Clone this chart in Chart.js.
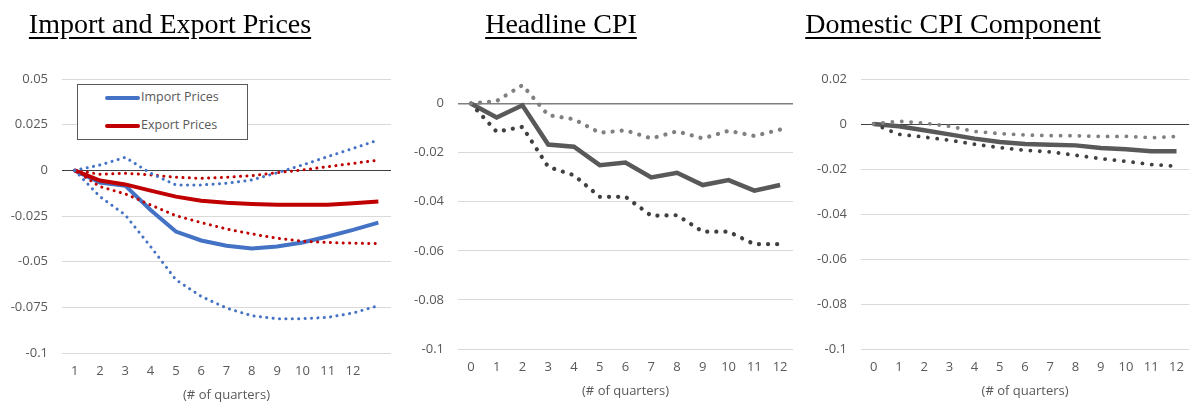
<!DOCTYPE html>
<html>
<head>
<meta charset="utf-8">
<script src="https://cdn.jsdelivr.net/npm/chart.js@4.4.1/dist/chart.umd.min.js"></script>
<style>
  body { margin: 0; background: #fff; width: 1194px; height: 403px; position: relative; overflow: hidden; }
  .panel { position: absolute; top: 0; height: 403px; }
  .title {
    position: absolute; top: 10px; transform: translateX(-50%); white-space: nowrap;
    font-family: "Liberation Serif", "Times New Roman", serif; font-size: 28px; line-height: 28px; color: #000;
    text-decoration: underline; text-decoration-thickness: 2px; text-underline-offset: 4px; z-index: 2;
  }
  .legend {
    position: absolute; left: 77px; top: 84px; width: 169px; height: 54px;
    border: 1.5px solid #595959; background: #fff; z-index: 2;
    font-family: "Open Sans", sans-serif; font-size: 12.5px; color: #595959;
  }
  .legend div { position: absolute; left: 27px; height: 16px; line-height: 16px; }
  .legend span { display: inline-block; width: 35px; height: 4px; border-radius: 2px; vertical-align: middle; margin-right: 1px; }
</style>
</head>
<body>
<div class="title" style="left:170px">Import and Export Prices</div>
<div class="title" style="left:561px">Headline CPI</div>
<div class="title" style="left:953px">Domestic CPI Component</div>

<div class="legend">
  <div style="top:4px"><span style="background:#4472C4"></span>Import Prices</div>
  <div style="top:32px"><span style="background:#C00000"></span>Export Prices</div>
</div>

<div class="panel" style="left:0;width:400px"><canvas id="c1"></canvas></div>
<div class="panel" style="left:400px;width:400px"><canvas id="c2"></canvas></div>
<div class="panel" style="left:800px;width:394px"><canvas id="c3"></canvas></div>

<script>
// Import and Export Prices (13 points, last one unlabelled)
const quarters1 = ['1', '2', '3', '4', '5', '6', '7', '8', '9', '10', '11', '12', ''];
const importPrices = [0, -0.0067, -0.0084, -0.0217, -0.0335, -0.0384, -0.0413, -0.0428, -0.0417, -0.0395, -0.0362, -0.0326, -0.0286];
const importUpper = [0, 0.0029, 0.0071, -0.0016, -0.0080, -0.0080, -0.0071, -0.0053, -0.0013, 0.0029, 0.0075, 0.0120, 0.0166];
const importLower = [0, -0.0144, -0.0244, -0.0417, -0.0599, -0.0690, -0.0754, -0.0796, -0.0812, -0.0812, -0.0805, -0.0781, -0.0741];
const exportPrices = [0, -0.0056, -0.0077, -0.0111, -0.0144, -0.0166, -0.0177, -0.0184, -0.0188, -0.0188, -0.0188, -0.0180, -0.0171];
const exportUpper = [0, -0.0022, -0.0016, -0.0025, -0.0038, -0.0044, -0.0038, -0.0029, -0.0013, 0.0002, 0.0020, 0.0038, 0.0056];
const exportLower = [0, -0.0089, -0.0129, -0.0189, -0.0248, -0.0286, -0.0321, -0.0348, -0.0372, -0.0388, -0.0395, -0.0399, -0.0401];
const yTicks1 = [0.05, 0.025, 0, -0.025, -0.05, -0.075, -0.1];

// Headline CPI
const quarters = ['0', '1', '2', '3', '4', '5', '6', '7', '8', '9', '10', '11', '12'];
const headline = [0, -0.0057, -0.0007, -0.0167, -0.0176, -0.0251, -0.0240, -0.0301, -0.0282, -0.0332, -0.0312, -0.0355, -0.0332];
const headlineUpper = [0, 0.0010, 0.0075, -0.0047, -0.0064, -0.0119, -0.0109, -0.0142, -0.0113, -0.0142, -0.0111, -0.0132, -0.0106];
const headlineLower = [0, -0.0115, -0.0095, -0.0258, -0.0292, -0.0380, -0.0380, -0.0457, -0.0455, -0.0522, -0.0522, -0.0573, -0.0573];
const yTicks2 = [0, -0.02, -0.04, -0.06, -0.08, -0.1];

// Domestic CPI Component
const domestic = [0, -0.0010, -0.0028, -0.0046, -0.0065, -0.0080, -0.0089, -0.0092, -0.0095, -0.0107, -0.0112, -0.0121, -0.0121];
const domesticUpper = [0, 0.0012, 0.0004, -0.0010, -0.0033, -0.0043, -0.0049, -0.0052, -0.0052, -0.0055, -0.0055, -0.0061, -0.0055];
const domesticLower = [0, -0.0046, -0.0058, -0.0072, -0.0090, -0.0105, -0.0117, -0.0124, -0.0139, -0.0154, -0.0166, -0.0180, -0.0188];
const yTicks3 = [0.02, 0, -0.02, -0.04, -0.06, -0.08, -0.1];

const tickFont = { family: '"Open Sans", sans-serif', size: 13 };
const tickColor = '#595959';

function solid(data, color, width) {
    return { data: data, borderColor: color, borderWidth: width, pointRadius: 0, tension: 0, fill: false };
}
function dotted(data, color, width, gap) {
    return { data: data, borderColor: color, borderWidth: width, borderDash: [0.1, gap], borderCapStyle: 'round',
             pointRadius: 0, tension: 0, fill: false };
}

function makeChart(id, labels, datasets, yMin, yMax, ticks, o) {
    new Chart(document.getElementById(id), {
        type: 'line',
        data: { labels: labels, datasets: datasets },
        options: {
            responsive: true,
            maintainAspectRatio: false,
            animation: false,
            layout: { padding: { left: 0, right: o.padRight, top: o.padTop, bottom: 0 } },
            plugins: { legend: { display: false }, tooltip: { enabled: false } },
            scales: {
                x: {
                    offset: true,
                    grid: { display: false, drawTicks: false },
                    border: { display: false },
                    ticks: { color: tickColor, font: tickFont, padding: 10, maxRotation: 0, autoSkip: false },
                    title: { display: true, text: '(# of quarters)', color: tickColor, font: tickFont,
                             padding: { top: 0, bottom: o.titlePad } },
                    afterFit: s => { s.height = o.xHeight; }
                },
                y: {
                    min: yMin,
                    max: yMax,
                    afterBuildTicks: s => { s.ticks = ticks.map(v => ({ value: v })); },
                    afterFit: s => { s.width = o.yWidth; },
                    border: { display: false },
                    grid: {
                        drawTicks: false,
                        color: c => c.tick && c.tick.value === 0 ? o.zeroColor : '#d9d9d9',
                        lineWidth: c => c.tick && c.tick.value === 0 ? o.zeroWidth : 1
                    },
                    ticks: { color: tickColor, font: tickFont, padding: o.yPad, callback: v => String(v) }
                }
            }
        }
    });
}

makeChart('c1', quarters1, [
    dotted(importUpper, '#4472C4', 3, 6.3),
    dotted(importLower, '#4472C4', 3, 6.3),
    dotted(exportUpper, '#C00000', 3, 6.3),
    dotted(exportLower, '#C00000', 3, 6.3),
    solid(exportPrices, '#C00000', 4),
    solid(importPrices, '#4472C4', 4)
], -0.1, 0.05, yTicks1, { padRight: 9, padTop: 79, xHeight: 50, titlePad: 0, yWidth: 62, yPad: 14, zeroColor: '#404040', zeroWidth: 1 });

makeChart('c2', quarters, [
    dotted(headlineUpper, '#808080', 4.2, 9),
    dotted(headlineLower, '#404040', 4.2, 9),
    solid(headline, '#595959', 4.5)
], -0.1, 0.01, yTicks2, { padRight: 7, padTop: 79, xHeight: 54, titlePad: 4, yWidth: 58, yPad: 14, zeroColor: '#7f7f7f', zeroWidth: 1.5 });

makeChart('c3', quarters, [
    dotted(domesticUpper, '#808080', 3.8, 9.3),
    dotted(domesticLower, '#404040', 3.8, 9.3),
    solid(domestic, '#595959', 4.5)
], -0.1, 0.02, yTicks3, { padRight: 1, padTop: 79, xHeight: 54, titlePad: 3.5, yWidth: 61, yPad: 14, zeroColor: '#404040', zeroWidth: 1 });
</script>
</body>
</html>
